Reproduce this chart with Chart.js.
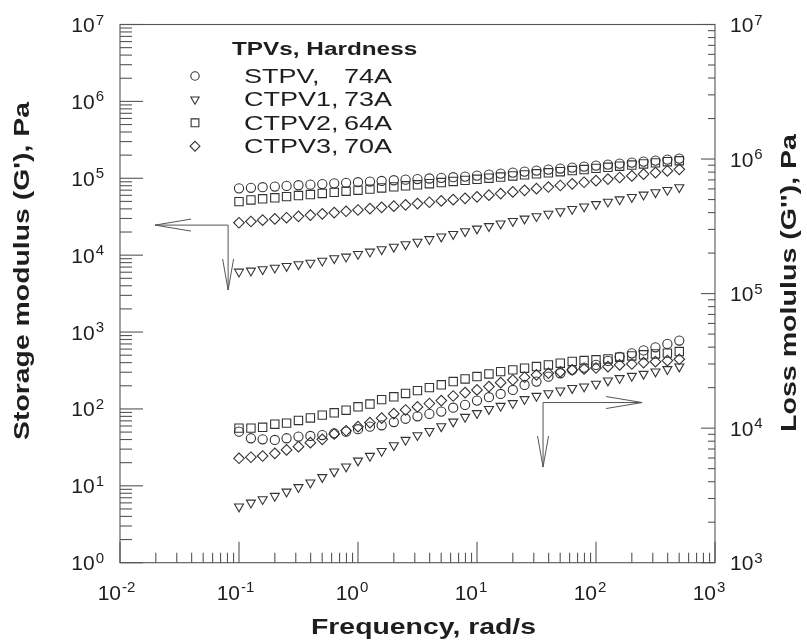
<!DOCTYPE html>
<html lang="en">
<head>
<meta charset="UTF-8">
<title>Storage and loss modulus of TPVs</title>
<script src="https://cdn.jsdelivr.net/npm/chart.js@4.4.1/dist/chart.umd.min.js"></script>
<style>
    html, body { margin: 0; padding: 0; background: #fff; }
    #chart-box { width: 807px; height: 640px; }
</style>
</head>
<body>
<div id="chart-box"><canvas id="modulusChart" width="807" height="640"></canvas></div>
<script>
// Frequências de varredura (rad/s)
const frequencies = [0.1, 0.126, 0.158, 0.2, 0.251, 0.316, 0.398, 0.501, 0.631, 0.794,
    1, 1.26, 1.58, 2, 2.51, 3.16, 3.98, 5.01, 6.31, 7.94,
    10, 12.6, 15.8, 20, 25.1, 31.6, 39.8, 50.1, 63.1, 79.4,
    100, 126, 158, 200, 251, 316, 398, 501];

// Módulo de armazenamento G' (Pa) - eixo esquerdo
const stpvStorage = [73900, 75200, 76500, 78100, 79600, 81100, 82600, 84000, 85900, 87300,
    88900, 90600, 92300, 94200, 95900, 97700, 99300, 101200, 103300, 105200,
    108400, 111700, 115100, 118600, 122200, 125900, 129700, 133700, 137700, 141900,
    146200, 150700, 155200, 159900, 164800, 169800, 175000, 180300];
const ctpv1Storage = [6080, 6270, 6530, 6850, 7210, 7590, 7960, 8450, 9080, 9530,
    10330, 11070, 11890, 12800, 13800, 14900, 16100, 17400, 18800, 20400,
    22100, 23800, 25700, 27700, 29800, 32000, 34500, 37100, 39800, 42800,
    46000, 49400, 53000, 56900, 61100, 65500, 70300, 76200];
const ctpv2Storage = [49700, 52200, 54000, 55700, 57700, 59600, 61400, 63400, 65600, 67800,
    70000, 72300, 74800, 77300, 79800, 82200, 85100, 87900, 90800, 93900,
    97000, 100200, 103700, 107200, 110700, 114300, 117800, 121900, 125900, 130000,
    134600, 139000, 143600, 148600, 153500, 158500, 164100, 169000];
const ctpv3Storage = [26400, 27400, 28500, 29600, 30700, 32000, 33200, 34500, 35800, 37200,
    38700, 40300, 41900, 43400, 45100, 46900, 48800, 50700, 52700, 54800,
    57400, 60300, 63200, 66400, 69700, 73300, 76900, 80600, 84600, 88700,
    93100, 97700, 102400, 107400, 113000, 118600, 124500, 130600];

// Módulo de perda G'' (Pa) - eixo direito
const stpvLoss = [9420, 8410, 8260, 8170, 8410, 8650, 8750, 8890, 9160, 9420,
    9820, 10260, 10500, 11100, 11750, 12250, 12760, 13270, 14190, 14890,
    16030, 16980, 17950, 19230, 20940, 22180, 24150, 25590, 27100, 28180,
    29510, 31620, 33880, 35970, 37840, 39900, 42270, 44770];
const ctpv1Loss = [2610, 2790, 2960, 3130, 3370, 3640, 3940, 4320, 4750, 5180,
    5730, 6210, 6760, 7450, 8170, 8850, 9510, 10300, 11170, 12110,
    12910, 13840, 14620, 15310, 16410, 17340, 18160, 19010, 19820, 20370,
    21330, 22540, 23500, 24430, 25290, 26300, 27420, 28640];
const ctpv2Loss = [10000, 10000, 10150, 10700, 10900, 11400, 11900, 12500, 13000, 13600,
    14400, 15100, 16300, 17100, 18100, 19000, 20000, 21000, 22200, 23200,
    24200, 25300, 26300, 27100, 27900, 28700, 29500, 30400, 31300, 31800,
    32200, 32700, 33700, 34400, 35100, 35600, 36100, 37100];
const ctpv3Loss = [5970, 6080, 6210, 6500, 6890, 7280, 7800, 8260, 9060, 9570,
    10260, 10990, 11860, 12820, 13650, 14390, 15240, 16030, 17340, 18370,
    19230, 20370, 21780, 22800, 23880, 24890, 25590, 26180, 27100, 27540,
    27990, 28640, 29510, 29990, 30690, 31190, 31770, 32510];

// Rótulos dos eixos (expoentes de 10)
const xTickExponents = [-2, -1, 0, 1, 2, 3];
const leftTickExponents = [0, 1, 2, 3, 4, 5, 6, 7];
const rightTickExponents = [3, 4, 5, 6, 7];

// Legenda
const legendTitle = 'TPVs, Hardness';
const seriesNames = ['STPV,', 'CTPV1,', 'CTPV2,', 'CTPV3,'];
const seriesHardness = ['74A', '73A', '64A', '70A'];

// Setas indicando o eixo de cada grupo de curvas
const storageArrow = { axis: 'y', corner: { x: 0.081, y: 24600 }, tipX: 0.0197, tipY: 3520 };
const lossArrow = { axis: 'y2', corner: { x: 35.9, y: 15500 }, tipX: 244, tipY: 5140 };

const markerColor = '#333';
const axisColor = '#555';
const textColor = '#1e1e1e';
const fontFamily = '"Liberation Sans", Arial, Helvetica, sans-serif';

const markers = [
    { pointStyle: 'circle', radius: 4.6, rotation: 0 },
    { pointStyle: 'triangle', radius: 5.2, rotation: 180 },
    { pointStyle: 'rect', radius: 5.9, rotation: 0 },
    { pointStyle: 'rectRot', radius: 5.3, rotation: 0 }
];

// Monta os pares (frequência, valor)
function toPoints(values) {
    return values.map((v, i) => ({ x: frequencies[i], y: v }));
}

function makeDataset(label, values, marker, axis) {
    return {
        label,
        data: toPoints(values),
        yAxisID: axis,
        showLine: false,
        pointStyle: marker.pointStyle,
        pointRadius: marker.radius,
        pointRotation: marker.rotation,
        pointBorderWidth: 1.1,
        pointBorderColor: markerColor,
        pointBackgroundColor: 'rgba(0,0,0,0)'
    };
}

// Texto alargado na horizontal (como a fonte original)
function drawWideText(ctx, text, x, y, font, stretch, align, rotate) {
    ctx.save();
    ctx.translate(x, y);
    if (rotate) ctx.rotate(rotate);
    ctx.scale(stretch, 1);
    ctx.font = font;
    ctx.fillStyle = textColor;
    ctx.textAlign = align || 'left';
    ctx.textBaseline = rotate ? 'middle' : 'alphabetic';
    ctx.fillText(text, 0, 0);
    ctx.restore();
}

// Desenha "10" com o expoente sobrescrito
function drawPower(ctx, exp, x, baseY, anchor) {
    const baseFont = '21px ' + fontFamily;
    const expFont = '15px ' + fontFamily;
    const expText = String(exp);
    ctx.font = baseFont;
    const wBase = ctx.measureText('10').width;
    ctx.font = expFont;
    const wExp = ctx.measureText(expText).width;
    let start = x;
    if (anchor === 'bottom') start = x - wBase + 1;
    else if (anchor === 'right') start = x - wBase - wExp - 1;
    ctx.fillStyle = textColor;
    ctx.textAlign = 'left';
    ctx.textBaseline = 'alphabetic';
    ctx.font = baseFont;
    ctx.fillText('10', start, baseY);
    ctx.font = expFont;
    ctx.fillText(expText, start + wBase + 1, baseY - 7.5);
}

function line(ctx, x1, y1, x2, y2) {
    ctx.beginPath();
    ctx.moveTo(x1, y1);
    ctx.lineTo(x2, y2);
    ctx.stroke();
}

// Moldura, marcas dos eixos (para dentro) e rótulos
const framePlugin = {
    id: 'frame',
    beforeDatasetsDraw(chart) {
        const { ctx, chartArea: a, scales } = chart;
        ctx.save();
        ctx.strokeStyle = axisColor;
        ctx.lineWidth = 1.1;
        ctx.strokeRect(a.left, a.top, a.right - a.left, a.bottom - a.top);

        // eixo x
        xTickExponents.forEach(k => {
            const px = scales.x.getPixelForValue(10 ** k);
            line(ctx, px, a.bottom, px, a.bottom - 21);
            if (k < 3) {
                for (let m = 2; m <= 9; m++) {
                    const mx = scales.x.getPixelForValue(m * 10 ** k);
                    line(ctx, mx, a.bottom, mx, a.bottom - 10);
                }
            }
            drawPower(ctx, k, px, a.bottom + 37, 'bottom');
        });

        // eixo esquerdo (G')
        leftTickExponents.forEach(k => {
            const py = scales.y.getPixelForValue(10 ** k);
            line(ctx, a.left, py, a.left + 23, py);
            if (k < 7) {
                for (let m = 2; m <= 9; m++) {
                    const my = scales.y.getPixelForValue(m * 10 ** k);
                    line(ctx, a.left, my, a.left + 12, my);
                }
            }
            drawPower(ctx, k, a.left - 16, py + 7.5, 'right');
        });

        // eixo direito (G'')
        rightTickExponents.forEach(k => {
            const py = scales.y2.getPixelForValue(10 ** k);
            line(ctx, a.right, py, a.right - 14, py);
            if (k < 7) {
                for (let m = 2; m <= 9; m++) {
                    const my = scales.y2.getPixelForValue(m * 10 ** k);
                    line(ctx, a.right, my, a.right - 7, my);
                }
            }
            drawPower(ctx, k, a.right + 15, py + 7.5, 'left');
        });

        // títulos dos eixos
        const titleFont = 'bold 22px ' + fontFamily;
        drawWideText(ctx, 'Frequency, rad/s', (a.left + a.right) / 2 + 6, 634, titleFont, 1.29, 'center');
        drawWideText(ctx, "Storage modulus (G'), Pa", 23, 271, titleFont, 1.29, 'center', -Math.PI / 2);
        drawWideText(ctx, "Loss molulus (G''), Pa", 790, 283, titleFont, 1.3, 'center', -Math.PI / 2);
        ctx.restore();
    },
    afterDraw(chart) {
        const { ctx, scales } = chart;
        ctx.save();
        ctx.strokeStyle = axisColor;
        ctx.lineWidth = 1;

        // setas
        [storageArrow, lossArrow].forEach(arrow => {
            const yScale = scales[arrow.axis];
            const cx = scales.x.getPixelForValue(arrow.corner.x);
            const cy = yScale.getPixelForValue(arrow.corner.y);
            const tx = scales.x.getPixelForValue(arrow.tipX);
            const ty = yScale.getPixelForValue(arrow.tipY);
            const dir = tx < cx ? 1 : -1;
            line(ctx, cx, cy, tx, cy);
            line(ctx, tx, cy, tx + dir * 36, cy - 6);
            line(ctx, tx, cy, tx + dir * 36, cy + 6);
            line(ctx, cx, cy, cx, ty);
            line(ctx, cx, ty, cx - 5.5, ty - 31);
            line(ctx, cx, ty, cx + 5.5, ty - 31);
        });

        // legenda
        drawWideText(ctx, legendTitle, 232, 55, 'bold 19px ' + fontFamily, 1.28, 'left');
        const entryFont = '20px ' + fontFamily;
        seriesNames.forEach((name, i) => {
            const baseY = 83 + i * 23.4;
            ctx.strokeStyle = markerColor;
            ctx.fillStyle = 'rgba(0,0,0,0)';
            ctx.lineWidth = 1.1;
            Chart.helpers.drawPoint(ctx, {
                pointStyle: markers[i].pointStyle,
                radius: markers[i].radius - 0.4,
                rotation: markers[i].rotation,
                borderWidth: 1.1
            }, 195, baseY - 7);
            drawWideText(ctx, name, 244, baseY, entryFont, 1.35, 'left');
            drawWideText(ctx, seriesHardness[i], 344, baseY, entryFont, 1.35, 'left');
        });
        ctx.restore();
    }
};

const names = ['STPV', 'CTPV1', 'CTPV2', 'CTPV3'];
const storageSeries = [stpvStorage, ctpv1Storage, ctpv2Storage, ctpv3Storage];
const lossSeries = [stpvLoss, ctpv1Loss, ctpv2Loss, ctpv3Loss];

const datasets = [];
names.forEach((n, i) => {
    datasets.push(makeDataset(n + " G'", storageSeries[i], markers[i], 'y'));
    datasets.push(makeDataset(n + " G''", lossSeries[i], markers[i], 'y2'));
});

const ctx = document.getElementById('modulusChart').getContext('2d');
new Chart(ctx, {
    type: 'scatter',
    data: { datasets },
    options: {
        responsive: false,
        animation: false,
        layout: { padding: { left: 120, right: 92, top: 24.5, bottom: 77.3 } },
        scales: {
            x: { type: 'logarithmic', min: 0.01, max: 1000, display: false },
            y: { type: 'logarithmic', min: 1, max: 1e7, display: false },
            y2: { type: 'logarithmic', min: 1e3, max: 1e7, display: false, position: 'right' }
        },
        plugins: {
            legend: { display: false },
            tooltip: { enabled: false }
        }
    },
    plugins: [framePlugin]
});
</script>
</body>
</html>
